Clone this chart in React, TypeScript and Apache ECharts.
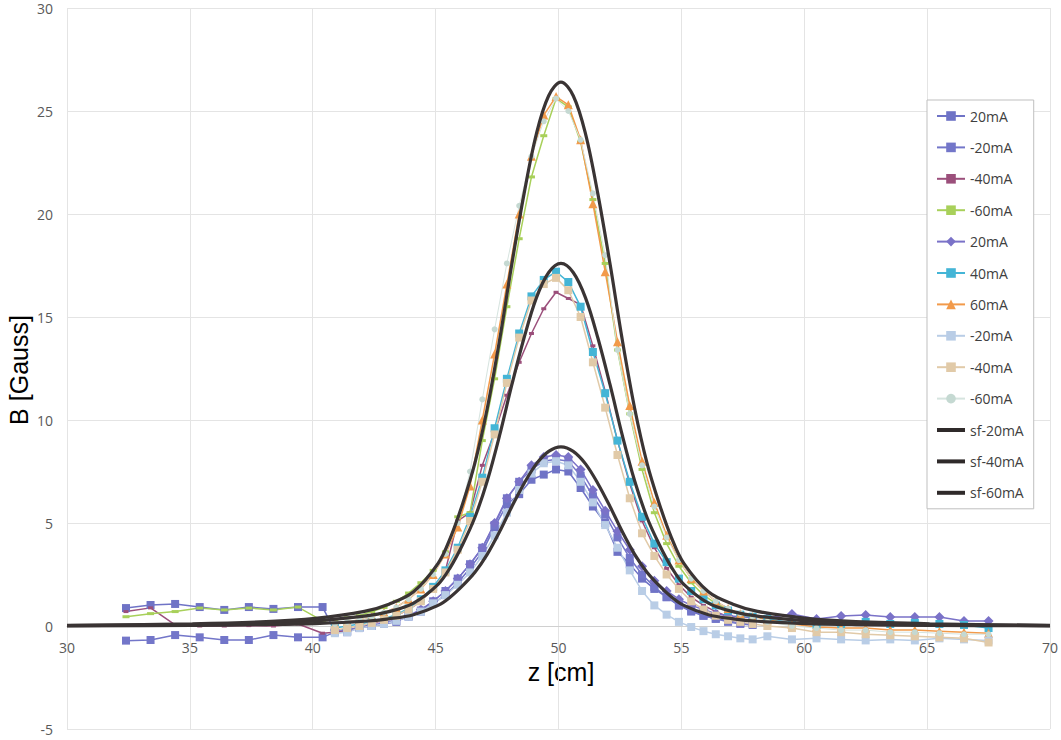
import React, { useEffect, useRef } from "react";
import * as echarts from "echarts";

// z positions [cm]
const zSetA = [32.4, 33.4, 34.4, 35.4, 36.4, 37.4, 38.4, 39.4, 40.4,
  40.9, 41.4, 41.9, 42.4, 42.9, 43.4, 43.9, 44.4, 44.9, 45.4, 45.9, 46.4, 46.9, 47.4, 47.9,
  48.4, 48.9, 49.4, 49.9, 50.4, 50.9, 51.4, 51.9, 52.4, 52.9, 53.4, 53.9, 54.4, 54.9, 55.4,
  55.9, 56.4, 56.9, 57.4, 57.9];
const zSetB = [40.9, 41.4, 41.9, 42.4, 42.9, 43.4, 43.9, 44.4, 44.9, 45.4, 45.9, 46.4, 46.9,
  47.4, 47.9, 48.4, 48.9, 49.4, 49.9, 50.4, 50.9, 51.4, 51.9, 52.4, 52.9, 53.4, 53.9, 54.4,
  54.9, 55.4, 55.9, 56.4, 56.9, 57.4, 57.9, 58.5, 59.5, 60.5, 61.5, 62.5, 63.5, 64.5, 65.5, 66.5, 67.5];
const zFit = [30.0, 35.1, 38.1, 40.1, 42.1, 43.1, 44.1, 45.1, 45.6, 46.1, 46.6, 47.1, 47.6, 48.1,
  48.6, 49.1, 49.6, 50.1, 50.6, 51.1, 51.6, 52.1, 52.6, 53.1, 53.6, 54.1, 54.6, 55.1, 56.1, 57.1,
  58.1, 60.1, 62.1, 65.1, 70.0];

// B [Gauss], first measurement set
const bA20 = [0.87, 1.02, 1.07, 0.92, 0.78, 0.92, 0.83, 0.92, 0.92,
  -0.25, -0.3, -0.05, 0.0, 0.1, 0.2, 0.5, 0.7, 1.1, 1.5, 2.1, 2.8, 3.6, 4.8, 5.9, 6.4, 7.1, 7.35,
  7.6, 7.5, 6.7, 5.8, 5.0, 3.6, 3.0, 2.3, 1.8, 1.4, 1.0, 0.7, 0.5, 0.35, 0.25, 0.15, 0.1];
const bAm20 = [-0.71, -0.68, -0.44, -0.55, -0.68, -0.68, -0.44, -0.55, -0.55,
  -0.3, -0.25, -0.1, 0.0, 0.1, 0.25, 0.45, 0.75, 1.2, 1.7, 2.3, 3.0, 3.8, 4.9, 6.2, 7.0, 7.6, 8.0,
  8.1, 8.0, 7.3, 6.3, 5.4, 4.3, 3.3, 2.5, 1.9, 1.4, 1.0, 0.75, 0.5, 0.35, 0.2, 0.1, 0.05];
const bAm40 = [0.7, 0.88, 0.05, 0.0, 0.0, 0.02, 0.0, 0.1, -0.35,
  -0.3, -0.2, -0.1, 0.1, 0.3, 0.5, 0.8, 1.2, 1.8, 2.7, 5.1, 5.5, 7.8, 9.4, 11.2, 12.8, 14.2, 15.4,
  16.2, 15.9, 15.6, 13.6, 11.4, 9.0, 6.9, 5.1, 3.8, 2.8, 2.0, 1.4, 1.0, 0.7, 0.45, 0.3, 0.2];
const bAm60 = [0.45, 0.6, 0.7, 0.87, 0.78, 0.87, 0.78, 0.92, 0.25,
  0.3, 0.4, 0.5, 0.7, 0.9, 1.2, 1.6, 2.1, 2.7, 3.6, 5.3, 5.5, 9.0, 12.0, 15.5, 18.8, 21.8, 23.8,
  25.6, 25.2, 23.5, 20.7, 17.6, 13.4, 10.3, 7.6, 5.5, 4.0, 2.9, 2.1, 1.5, 1.1, 0.8, 0.55, 0.4];

// B [Gauss], second measurement set
const bB20 = [-0.2, -0.2, -0.05, 0.05, 0.15, 0.3, 0.5, 0.8, 1.2, 1.7, 2.3, 3.0, 3.8, 5.0, 6.2, 7.0,
  7.8, 8.2, 8.3, 8.2, 7.6, 6.6, 5.6, 4.6, 3.7, 2.9, 2.2, 1.7, 1.3, 1.0, 0.8, 0.6, 0.5, 0.45, 0.4,
  0.39, 0.58, 0.34, 0.49, 0.53, 0.44, 0.44, 0.44, 0.24, 0.24];
const bB40 = [-0.1, 0.0, 0.1, 0.2, 0.35, 0.55, 0.85, 1.3, 1.9, 2.7, 3.8, 5.3, 7.2, 9.6, 12.0, 14.2,
  16.0, 16.8, 17.2, 16.7, 15.5, 13.3, 11.3, 9.0, 7.0, 5.3, 4.0, 3.1, 2.3, 1.7, 1.3, 1.0, 0.75, 0.55, 0.45,
  0.35, 0.15, 0.05, 0.1, 0.2, 0.1, 0.15, 0.1, 0.05, -0.1];
const bB60 = [0.1, 0.2, 0.3, 0.45, 0.65, 0.9, 1.3, 1.8, 2.5, 3.5, 4.8, 6.8, 10.0, 13.2, 16.6, 20.0,
  22.8, 24.8, 25.7, 25.3, 23.6, 20.5, 17.2, 13.8, 10.7, 8.0, 6.0, 4.4, 3.2, 2.3, 1.7, 1.2, 0.85, 0.6, 0.45,
  0.3, 0.1, -0.05, -0.1, -0.1, -0.2, -0.2, -0.25, -0.3, -0.35];
const bBm20 = [-0.35, -0.3, -0.1, 0.0, 0.1, 0.25, 0.45, 0.7, 1.1, 1.5, 2.0, 2.6, 3.4, 4.4, 5.5, 6.6,
  7.4, 7.9, 8.0, 7.8, 7.0, 6.0, 4.9, 3.8, 2.7, 1.7, 1.0, 0.55, 0.2, -0.05, -0.25, -0.4, -0.5, -0.6, -0.65,
  -0.5, -0.65, -0.6, -0.65, -0.7, -0.65, -0.7, -0.6, -0.65, -0.7];
const bBm40 = [-0.2, -0.1, 0.0, 0.15, 0.3, 0.5, 0.8, 1.2, 1.8, 2.6, 3.7, 5.1, 7.0, 9.3, 11.8, 14.0,
  15.8, 16.6, 16.9, 16.3, 15.0, 12.8, 10.6, 8.3, 6.2, 4.5, 3.4, 2.5, 1.8, 1.2, 0.8, 0.5, 0.3, 0.2, 0.1,
  0.0, -0.1, -0.3, -0.3, -0.4, -0.45, -0.5, -0.55, -0.6, -0.8];
const bBm60 = [0.1, 0.2, 0.3, 0.45, 0.65, 0.9, 1.3, 1.8, 2.5, 3.5, 5.0, 7.5, 11.0, 14.4, 17.6, 20.4,
  22.8, 24.5, 25.6, 25.0, 23.6, 21.0, 18.0, 13.4, 10.3, 7.8, 5.8, 4.3, 3.2, 2.3, 1.7, 1.2, 0.85, 0.6, 0.45,
  0.2, 0.0, -0.1, -0.2, -0.2, -0.3, -0.3, -0.35, -0.4, -0.4];

// fitted curves (sf)
const bFit20 = [0.01, 0.03, 0.07, 0.12, 0.23, 0.35, 0.55, 1.0, 1.41, 1.96, 2.61, 3.48, 4.57, 5.79,
  6.92, 7.87, 8.48, 8.7, 8.48, 7.87, 6.92, 5.79, 4.57, 3.48, 2.61, 1.96, 1.41, 1.0, 0.55, 0.35, 0.23,
  0.12, 0.07, 0.03, 0.01];
const bFit40 = [0.02, 0.07, 0.14, 0.25, 0.48, 0.7, 1.11, 2.02, 2.85, 3.96, 5.28, 7.04, 9.24, 11.7,
  13.99, 15.93, 17.16, 17.6, 17.16, 15.93, 13.99, 11.7, 9.24, 7.04, 5.28, 3.96, 2.85, 2.02, 1.11, 0.7,
  0.48, 0.25, 0.14, 0.07, 0.02];
const bFit60 = [0.03, 0.11, 0.21, 0.37, 0.71, 1.06, 1.66, 3.04, 4.28, 5.94, 7.92, 10.56, 13.86, 17.56,
  20.99, 23.89, 25.74, 26.4, 25.74, 23.89, 20.99, 17.56, 13.86, 10.56, 7.92, 5.94, 4.28, 3.04, 1.66,
  1.06, 0.71, 0.37, 0.21, 0.11, 0.03];

const legendNames = ["20mA", "-20mA", "-40mA", "-60mA", "20mA ", "40mA", "60mA", "-20mA ", "-40mA ", "-60mA ", "sf-20mA", "sf-40mA", "sf-60mA"];
const xTicks = { min: 30, max: 70, interval: 5 };
const yTicks = { min: -5, max: 30, interval: 5 };

const pair = (xs: number[], ys: number[]) => ys.map((y, i) => [xs[i], y]);

const W = 1061, H = 740;
const GRID = { left: 67, right: 8, top: 8, bottom: 11 };

export default function App() {
  const ref = useRef<HTMLDivElement>(null);
  useEffect(() => {
    document.body.style.margin = "0";
    const chart = echarts.init(ref.current!, undefined, { renderer: "svg" });
    const dataSeries = (name: string, xs: number[], ys: number[], color: string, symbol: string, size: any, lineColor?: string, lw = 1.5) => ({
      type: "line",
      name,
      data: pair(xs, ys),
      symbol,
      symbolSize: size,
      showSymbol: true,
      itemStyle: { color, borderWidth: 0 },
      lineStyle: { color: lineColor || color, width: lw },
      emphasis: { disabled: true },
      z: 2,
    });
    const fitSeries = (name: string, ys: number[]) => ({
      type: "line",
      name,
      data: pair(zFit, ys),
      symbol: "none",
      smooth: 0.35,
      itemStyle: { color: "#3a3434" },
      lineStyle: { color: "#3a3434", width: 3.2 },
      emphasis: { disabled: true },
      z: 3,
    });
    // pixel offset that moves the x axis from the bottom of the grid up to B = 0
    const plotH = H - GRID.top - GRID.bottom;
    const zeroOffset = -plotH * (0 - yTicks.min) / (yTicks.max - yTicks.min);
    chart.setOption({
      animation: false,
      backgroundColor: "#ffffff",
      grid: { ...GRID, containLabel: false },
      xAxis: {
        type: "value",
        min: xTicks.min,
        max: xTicks.max,
        interval: xTicks.interval,
        offset: zeroOffset,
        axisLine: { show: true, onZero: false, lineStyle: { color: "#d0d0d0" } },
        axisTick: { show: false },
        axisLabel: { margin: 14, color: "#595959", fontSize: 14, fontFamily: "Open Sans" },
        splitLine: { show: true, lineStyle: { color: "#e4e4e4", width: 1 } },
      },
      yAxis: {
        type: "value",
        min: yTicks.min,
        max: yTicks.max,
        interval: yTicks.interval,
        axisLine: { show: false },
        axisTick: { show: false },
        axisLabel: { margin: 14, color: "#595959", fontSize: 14, fontFamily: "Open Sans" },
        splitLine: { show: true, lineStyle: { color: "#e4e4e4", width: 1 } },
      },
      legend: {
        orient: "vertical",
        left: 927,
        top: 100,
        data: legendNames.map((n, i) =>
          i >= 10 ? { name: n, itemStyle: { opacity: 0 }, lineStyle: { width: 4, color: "#2f2a2a" } } : { name: n }
        ),
        formatter: (n: string) => n.trim(),
        itemWidth: 28,
        itemHeight: 12,
        itemGap: 17.4,
        padding: [9, 10, 9, 8],
        backgroundColor: "#ffffff",
        borderColor: "#bfbfbf",
        borderWidth: 1,
        borderRadius: 0,
        textStyle: { color: "#404040", fontSize: 14, fontFamily: "Open Sans" },
        selectedMode: false,
      },
      graphic: [
        {
          type: "text",
          x: 19,
          y: 370,
          rotation: Math.PI / 2,
          style: { text: "B [Gauss]", textAlign: "center", textVerticalAlign: "middle", fontSize: 25, fontFamily: "Liberation Sans", fill: "#000" },
        },
        {
          type: "text",
          x: 561,
          y: 672,
          style: { text: "z [cm]", textAlign: "center", textVerticalAlign: "middle", fontSize: 25, fontFamily: "Liberation Sans", fill: "#000" },
        },
      ],
      series: [
        dataSeries(legendNames[0], zSetA, bA20, "#6f73c6", "rect", 8),
        dataSeries(legendNames[1], zSetA, bAm20, "#7376c9", "rect", 8),
        dataSeries(legendNames[2], zSetA, bAm40, "#9b4f7b", "rect", [5, 3]),
        dataSeries(legendNames[3], zSetA, bAm60, "#a8d05a", "rect", [7, 3]),
        dataSeries(legendNames[4], zSetB, bB20, "#7a72c8", "diamond", 10),
        dataSeries(legendNames[5], zSetB, bB40, "#44b5d6", "rect", 8),
        dataSeries(legendNames[6], zSetB, bB60, "#f29a4a", "triangle", 9),
        dataSeries(legendNames[7], zSetB, bBm20, "#b9cde6", "rect", 8),
        dataSeries(legendNames[8], zSetB, bBm40, "#e1caa8", "rect", 8),
        dataSeries(legendNames[9], zSetB, bBm60, "#c5d9d2", "circle", 6, "#d6e4df", 1),
        fitSeries(legendNames[10], bFit20),
        fitSeries(legendNames[11], bFit40),
        fitSeries(legendNames[12], bFit60),
      ],
    });
    return () => chart.dispose();
  }, []);
  return <div ref={ref} style={{ width: W, height: H }} />;
}
